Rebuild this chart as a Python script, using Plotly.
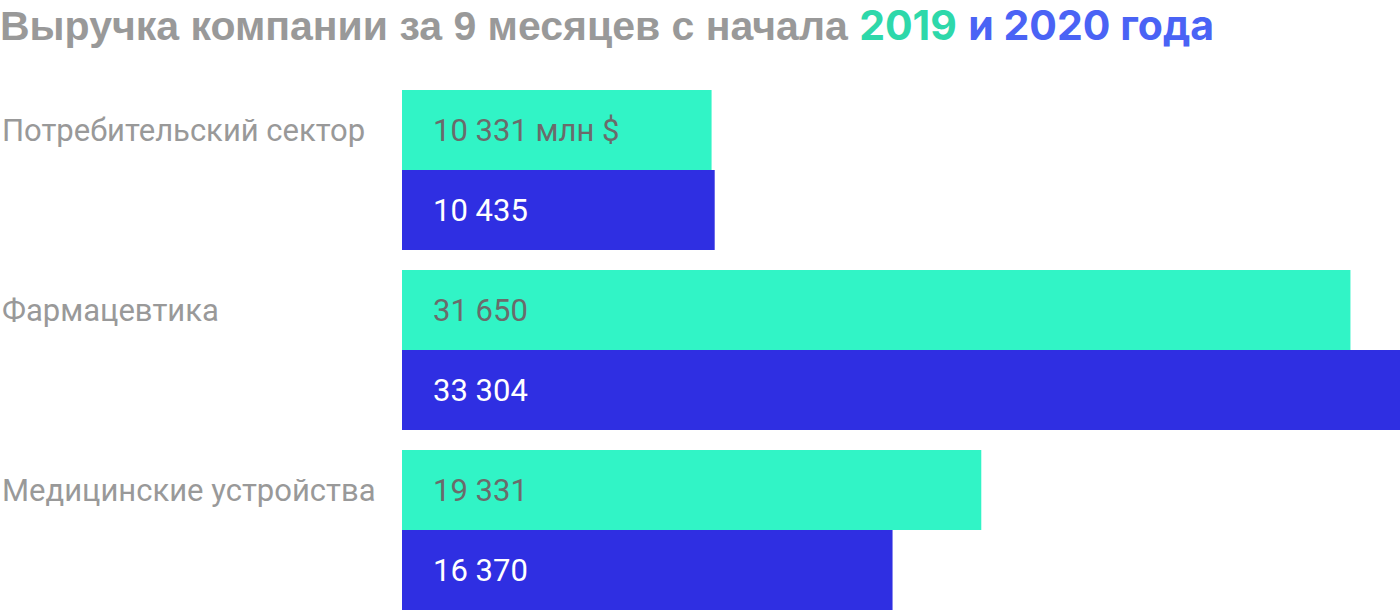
import plotly.graph_objects as go

categories = ["Потребительский сектор", "Фармацевтика", "Медицинские устройства"]
rev_2019 = [10331, 31650, 19331]
rev_2020 = [10435, 33304, 16370]
unit = " млн $"

GREEN = "#31F4C6"
BLUE = "#2F2FE2"

def fmt(v):
    return f"{v:,}".replace(",", " ")

fig = go.Figure()
fig.add_trace(go.Bar(y=categories, x=rev_2019, orientation="h", name="2019",
                     marker=dict(color=GREEN, line=dict(width=0)), hoverinfo="skip"))
fig.add_trace(go.Bar(y=categories, x=rev_2020, orientation="h", name="2020",
                     marker=dict(color=BLUE, line=dict(width=0)), hoverinfo="skip"))

W, H = 1400, 612
left_px = 402
plot_top = 80
cat_px = 180

annotations = []
for i, c in enumerate(categories):
    annotations.append(dict(xref="paper", yref="y", x=0, y=c, xanchor="left", yanchor="middle",
                            yshift=40, text=c, showarrow=False,
                            font=dict(family="Roboto", size=31, color="#999999")))
    t19 = fmt(rev_2019[i]) + (unit if i == 0 else "")
    annotations.append(dict(xref="x", yref="y", x=0, y=c, xanchor="left", yanchor="middle",
                            xshift=29, yshift=40, text=t19, showarrow=False,
                            font=dict(family="Roboto", size=31, color="#6b6b6b")))
    annotations.append(dict(xref="x", yref="y", x=0, y=c, xanchor="left", yanchor="middle",
                            xshift=29, yshift=-40, text=fmt(rev_2020[i]), showarrow=False,
                            font=dict(family="Roboto", size=31, color="#ffffff")))

title = ("<b>Выручка компании за 9 месяцев с начала "
         "<span style='color:#2ED8AA;font-family:Inter'>2019</span> "
         "<span style='color:#4A63F5;font-family:Inter'>и 2020 года</span></b>")

fig.update_layout(
    width=W, height=H,
    margin=dict(l=0, r=0, t=plot_top, b=0, pad=0),
    paper_bgcolor="white", plot_bgcolor="white",
    barmode="group", bargap=20 / 180, bargroupgap=0,
    showlegend=False,
    title=dict(text=title, x=0, xanchor="left", xref="container",
               y=1 - 26 / H, yanchor="middle", yref="container",
               font=dict(family="Liberation Sans", size=41, color="#999999")),
    xaxis=dict(domain=[left_px / W, 1], range=[0, max(rev_2020)], visible=False,
               fixedrange=True),
    yaxis=dict(range=[-0.5 + (H - plot_top) / cat_px, -0.5],
               showticklabels=False, showgrid=False,
               zeroline=False, showline=False, ticks="", fixedrange=True),
    annotations=annotations,
)

fig.write_html("out.html", config={"displayModeBar": False},
               post_script="document.body.style.margin='0';")
